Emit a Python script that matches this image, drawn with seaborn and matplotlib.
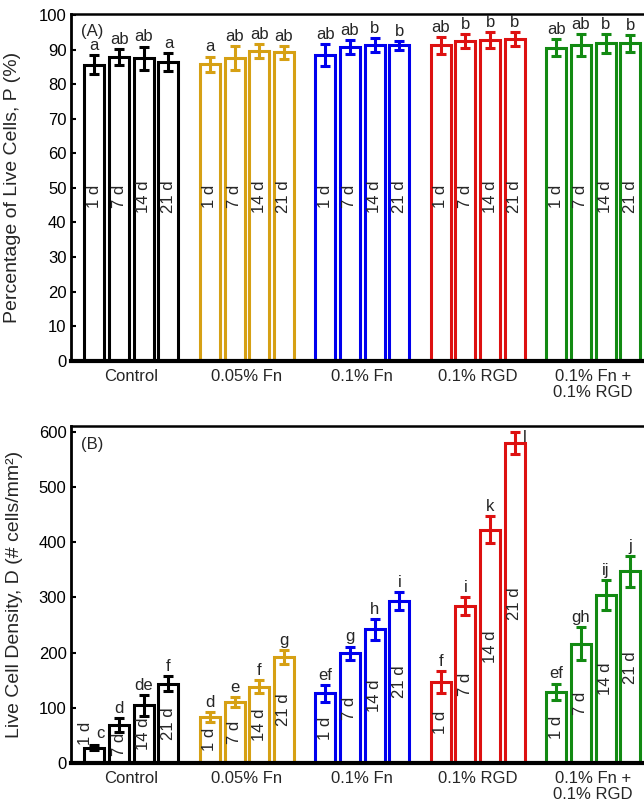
import numpy as np
import pandas as pd
import matplotlib
matplotlib.use("Agg")
import matplotlib.pyplot as plt
import seaborn as sns

# ---------------- data ----------------
groups = ["Control", "0.05% Fn", "0.1% Fn", "0.1% RGD", "0.1% Fn +\n0.1% RGD"]
days = ["1 d", "7 d", "14 d", "21 d"]
colors = ["#000000", "#D6A014", "#0000EE", "#DD1111", "#128A12"]

# Panel A: percentage of live cells (%)
P_control = [85.6, 87.8, 87.5, 86.3]
P_fn005 = [85.8, 87.6, 89.7, 89.2]
P_fn01 = [88.5, 90.8, 91.3, 91.2]
P_rgd = [91.2, 92.6, 92.8, 93.0]
P_both = [90.6, 91.3, 91.8, 91.8]
Perr_control = [2.7, 2.3, 3.4, 2.6]
Perr_fn005 = [2.2, 3.4, 2.0, 1.9]
Perr_fn01 = [3.2, 2.1, 2.0, 1.2]
Perr_rgd = [2.4, 2.0, 2.2, 2.0]
Perr_both = [2.5, 3.2, 2.8, 2.4]
Plet_control = ["a", "ab", "ab", "a"]
Plet_fn005 = ["a", "ab", "ab", "ab"]
Plet_fn01 = ["ab", "ab", "b", "b"]
Plet_rgd = ["ab", "b", "b", "b"]
Plet_both = ["ab", "ab", "b", "b"]

# Panel B: live cell density (# cells/mm^2)
D_control = [28, 69, 105, 144]
D_fn005 = [84, 111, 138, 192]
D_fn01 = [126, 199, 242, 293]
D_rgd = [147, 284, 423, 579]
D_both = [129, 216, 304, 347]
Derr_control = [4, 13, 19, 14]
Derr_fn005 = [9, 9, 12, 13]
Derr_fn01 = [16, 12, 19, 16]
Derr_rgd = [20, 16, 25, 20]
Derr_both = [15, 30, 27, 28]
Dlet_control = ["c", "d", "de", "f"]
Dlet_fn005 = ["d", "e", "f", "g"]
Dlet_fn01 = ["ef", "g", "h", "i"]
Dlet_rgd = ["f", "i", "k", "l"]
Dlet_both = ["ef", "gh", "ij", "j"]

P_vals = [P_control, P_fn005, P_fn01, P_rgd, P_both]
P_errs = [Perr_control, Perr_fn005, Perr_fn01, Perr_rgd, Perr_both]
P_lets = [Plet_control, Plet_fn005, Plet_fn01, Plet_rgd, Plet_both]
D_vals = [D_control, D_fn005, D_fn01, D_rgd, D_both]
D_errs = [Derr_control, Derr_fn005, Derr_fn01, Derr_rgd, Derr_both]
D_lets = [Dlet_control, Dlet_fn005, Dlet_fn01, Dlet_rgd, Dlet_both]

# ---------------- style ----------------
sns.set_style("ticks")
plt.rcParams["font.family"] = ["Liberation Sans", "DejaVu Sans"]
plt.rcParams["font.size"] = 12

FS = 12
LW = 2.2
TOTAL_W = 0.856
STEP = TOTAL_W / 4


def panel(ax, vals, errs, lets, ylim, yticks, ylabel, tag, tag_y, mode):
    df = pd.DataFrame({
        "group": np.repeat(groups, len(days)),
        "day": days * len(groups),
        "value": np.concatenate(vals),
    })
    sns.barplot(data=df, x="group", y="value", hue="day", order=groups,
                hue_order=days, width=TOTAL_W, gap=0.19, fill=False,
                errorbar=None, legend=False, ax=ax, linewidth=LW)
    for p in ax.patches:
        cx = p.get_x() + p.get_width() / 2
        h = p.get_height()
        gi = int(round(cx))
        di = int(round((cx - gi) / STEP + 1.5))
        col = colors[gi]
        p.set_edgecolor(col)
        p.set_facecolor("none")
        p.set_linewidth(LW)
        e = errs[gi][di]
        ax.errorbar(cx, h, yerr=e, fmt="none", ecolor=col, elinewidth=LW,
                    capsize=3.6, capthick=LW, zorder=3)
        top = h + e
        let = lets[gi][di]
        if mode == "A":
            ax.text(cx, 47.5, days[di], rotation=90, ha="center", va="center",
                    fontsize=FS)
            ax.annotate(let, (cx, top), xytext=(0, 1.5), textcoords="offset points",
                        ha="center", va="bottom", fontsize=FS)
        else:
            if h < 50:
                ax.text(cx - 0.075, top + 22, days[di], rotation=90, ha="center",
                        va="center", fontsize=FS)
                ax.text(cx + 0.05, top + 22, let, ha="center", va="center",
                        fontsize=FS)
            else:
                ax.text(cx, h / 2, days[di], rotation=90, ha="center", va="center",
                        fontsize=FS)
                if top + 20 > ylim[1]:
                    ax.text(cx + 0.07, top - 10, let, ha="left", va="center",
                            fontsize=FS)
                else:
                    ax.annotate(let, (cx, top), xytext=(0, 1.5),
                                textcoords="offset points", ha="center",
                                va="bottom", fontsize=FS)

    ax.set_xlim(-0.526, 4.44)
    ax.set_ylim(*ylim)
    ax.set_yticks(yticks)
    ax.set_xlabel("")
    ax.set_ylabel(ylabel, fontsize=14)
    ax.tick_params(axis="y", direction="in", length=3.5, width=1.5,
                   labelsize=FS, pad=3, colors="black")
    ax.tick_params(axis="x", length=0, labelsize=FS, pad=6)
    for lab in ax.get_xticklabels():
        lab.set_linespacing(1.05)
        lab.set_verticalalignment("top")
    ax.spines["right"].set_visible(False)
    ax.spines["top"].set_linewidth(1.8)
    ax.spines["left"].set_linewidth(2.0)
    ax.spines["bottom"].set_linewidth(3.0)
    for s in ax.spines.values():
        s.set_color("black")
    ax.text(0.018, tag_y, tag, transform=ax.transAxes, ha="left", va="center",
            fontsize=FS)


fig = plt.figure(figsize=(6.44, 8.06), dpi=100)
axA = fig.add_axes([0.1098, 0.5525, 0.8902, 0.4301])
axB = fig.add_axes([0.1098, 0.0533, 0.8902, 0.4185])

panel(axA, P_vals, P_errs, P_lets, (0, 100.3), np.arange(0, 101, 10),
      "Percentage of Live Cells, P (%)", "(A)", 0.951, "A")
panel(axB, D_vals, D_errs, D_lets, (0, 611), np.arange(0, 601, 100),
      "Live Cell Density, D (# cells/mm²)", "(B)", 0.943, "B")
axA.yaxis.set_label_coords(-0.087, 0.5)
axB.yaxis.set_label_coords(-0.083, 0.5)

fig.savefig("out.png", dpi=100)
